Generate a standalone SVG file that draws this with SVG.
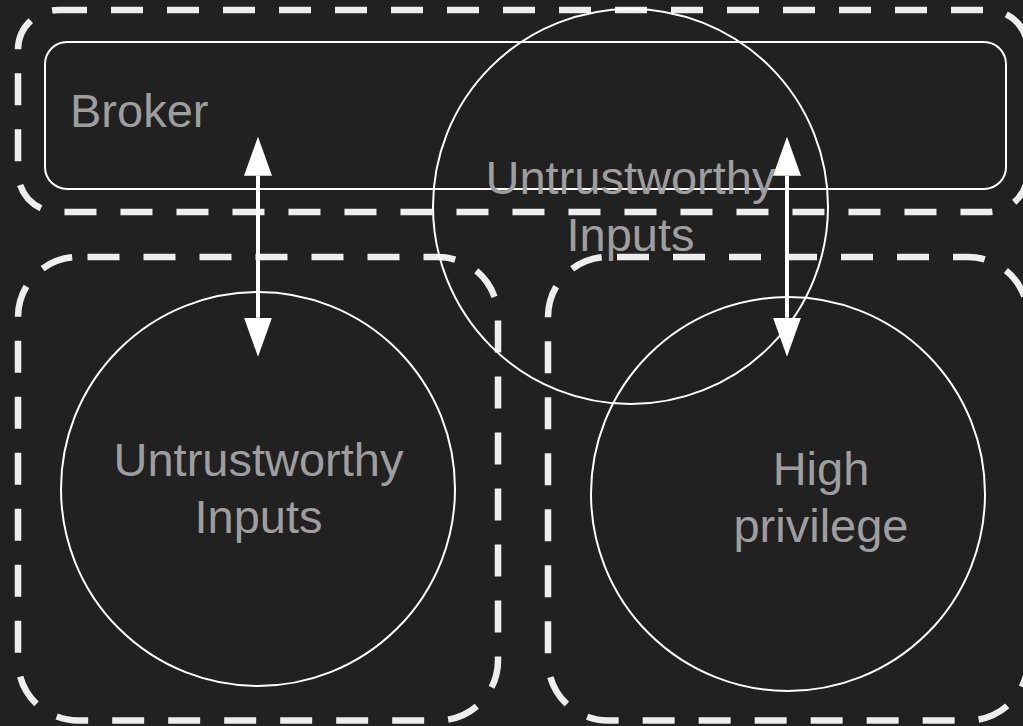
<svg xmlns="http://www.w3.org/2000/svg" width="1023" height="726" viewBox="0 0 1023 726">
<style>
.zone{fill:none;stroke:#eeeeee;stroke-width:6.5;stroke-dasharray:32 24}
.shape{fill:none;stroke:#ffffff;stroke-width:2}
.lbl{font-family:"Liberation Sans",Arial,sans-serif;font-size:47px;fill:#9e9e9e}
.mid{text-anchor:middle}
.conn{stroke:#ffffff;stroke-width:4;fill:none}
</style>
<defs>
<marker id="head" viewBox="0 0 39 28" refX="0" refY="14" markerWidth="39" markerHeight="28" markerUnits="userSpaceOnUse" orient="auto-start-reverse">
<path d="M0,0 L39,14 L0,28 Z" fill="#ffffff"/>
</marker>
</defs>
<rect width="1023" height="726" fill="#212121"/>
<g id="zone-broker"><rect class="zone" x="18" y="10" width="1010" height="202" rx="40" ry="40" stroke-dashoffset="3"/></g>
<g id="zone-left"><rect class="zone" x="18" y="257" width="480" height="463.5" rx="60" ry="60" stroke-dashoffset="46.5"/></g>
<g id="zone-right"><rect class="zone" x="548" y="257" width="480" height="463.5" rx="60" ry="60" stroke-dashoffset="47"/></g>
<g id="broker">
<rect class="shape" x="45" y="42" width="961" height="147" rx="22" ry="22"/>
<text class="lbl" x="70" y="127">Broker</text>
</g>
<g id="untrusted-top">
<circle class="shape" cx="630.5" cy="206.5" r="197.5"/>
<text class="lbl mid" x="630.5" y="194">Untrustworthy</text>
<text class="lbl mid" x="630.5" y="250.5">Inputs</text>
</g>
<g id="untrusted-left">
<circle class="shape" cx="258" cy="489" r="197"/>
<text class="lbl mid" x="258.5" y="476">Untrustworthy</text>
<text class="lbl mid" x="258.5" y="532.5">Inputs</text>
</g>
<g id="high-privilege">
<circle class="shape" cx="788" cy="494" r="197"/>
<text class="lbl mid" x="821" y="485">High</text>
<text class="lbl mid" x="821" y="541.5">privilege</text>
</g>
<g id="connectors">
<line class="conn" x1="258" y1="175.7" x2="258" y2="317.7" marker-start="url(#head)" marker-end="url(#head)"/>
<line class="conn" x1="787" y1="175.7" x2="787" y2="317.7" marker-start="url(#head)" marker-end="url(#head)"/>
</g>
</svg>
